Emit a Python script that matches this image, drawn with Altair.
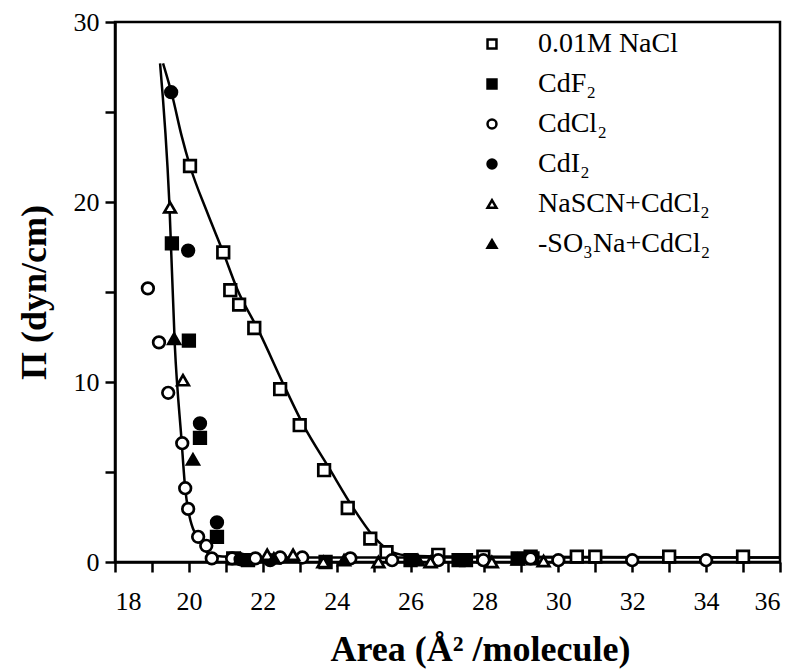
import altair as alt
import pandas as pd

# ---- data ----
series_names = ["0.01M NaCl", "CdF₂", "CdCl₂", "CdI₂", "NaSCN+CdCl₂", "-SO₃Na+CdCl₂"]
series_shapes = ["square", "square", "circle", "circle", "triangle-up", "triangle-up"]
series_fills = ["white", "black", "white", "black", "white", "black"]
series_strokes = ["black", "black", "black", "black", "black", "black"]

nacl_x = [20.03, 20.93, 21.12, 21.36, 21.77, 22.47, 23.0, 23.66, 24.3, 24.91, 25.35, 26.75, 27.97, 29.25, 30.5, 31.0, 33.0, 35.0]
nacl_y = [22.0, 17.2, 15.1, 14.3, 13.0, 9.6, 7.6, 5.1, 3.0, 1.3, 0.55, 0.4, 0.3, 0.3, 0.3, 0.3, 0.3, 0.3]

cdf2_x = [19.54, 20.0, 20.3, 20.76, 21.2, 21.6, 23.7, 26.0, 27.3, 27.5, 28.9, 29.3]
cdf2_y = [17.7, 12.3, 6.9, 1.4, 0.2, 0.1, 0.0, 0.1, 0.1, 0.1, 0.2, 0.2]

cdcl2_x = [18.89, 19.19, 19.44, 19.82, 19.9, 19.98, 20.25, 20.47, 20.62, 21.17, 21.8, 22.47, 23.07, 24.37, 25.5, 26.75, 27.97, 29.25, 30.0, 32.0, 34.0]
cdcl2_y = [15.2, 12.2, 9.4, 6.6, 4.1, 2.95, 1.4, 0.9, 0.2, 0.2, 0.2, 0.25, 0.25, 0.2, 0.1, 0.1, 0.1, 0.2, 0.1, 0.1, 0.1]

cdi2_x = [19.52, 19.98, 20.3, 20.76, 21.4, 22.2]
cdi2_y = [26.1, 17.3, 7.7, 2.2, 0.15, 0.1]

nascn_x = [19.49, 19.84, 22.12, 22.82, 23.64, 25.13, 26.54, 28.2, 29.6]
nascn_y = [19.7, 10.1, 0.4, 0.4, 0.0, 0.0, 0.0, 0.0, 0.05]

so3na_x = [19.6, 20.11, 21.4, 22.3, 24.2, 26.2, 28.9]
so3na_y = [12.4, 5.7, 0.2, 0.2, 0.1, 0.1, 0.15]

# fitted curves
fit_steep_x = [19.22, 19.47, 19.62, 19.8, 19.9, 19.98, 20.3, 20.55, 20.9, 22.0, 36.0]
fit_steep_y = [27.7, 20.0, 12.0, 6.8, 4.1, 2.9, 1.1, 0.45, 0.3, 0.25, 0.25]
fit_nacl_x = [19.3, 19.55, 19.8, 20.03, 20.5, 20.93, 21.3, 21.9, 22.6, 23.1, 23.8, 24.45, 25.05, 25.5, 26.0, 27.0, 36.0]
fit_nacl_y = [27.7, 25.9, 23.7, 22.0, 19.4, 17.2, 15.2, 12.8, 9.7, 7.6, 5.2, 3.0, 1.3, 0.55, 0.35, 0.3, 0.25]

# ---- tables ----
all_x = [nacl_x, cdf2_x, cdcl2_x, cdi2_x, nascn_x, so3na_x]
all_y = [nacl_y, cdf2_y, cdcl2_y, cdi2_y, nascn_y, so3na_y]
rows = []
for name, xs, ys in zip(series_names, all_x, all_y):
    for xv, yv in zip(xs, ys):
        rows.append({"series": name, "area": xv, "pi": yv})
points_df = pd.DataFrame(rows)

fit_rows = []
for i, (xv, yv) in enumerate(zip(fit_steep_x, fit_steep_y)):
    fit_rows.append({"curve": "steep", "order": i, "area": xv, "pi": yv})
for i, (xv, yv) in enumerate(zip(fit_nacl_x, fit_nacl_y)):
    fit_rows.append({"curve": "nacl", "order": i, "area": xv, "pi": yv})
fit_df = pd.DataFrame(fit_rows)

SERIF = "Liberation Serif"

x_enc = alt.X(
    "area:Q",
    scale=alt.Scale(domain=[18, 36], nice=False, zero=False),
    axis=alt.Axis(
        values=list(range(18, 37)),
        labelExpr="datum.value % 2 == 0 ? datum.label : ''",
        title="Area (Å² /molecule)",
        labelPadding=16,
        titlePadding=18,
        titleX=365,
    ),
)
y_enc = alt.Y(
    "pi:Q",
    scale=alt.Scale(domain=[0, 30], nice=False),
    axis=alt.Axis(
        values=[0, 5, 10, 15, 20, 25, 30],
        labelExpr="datum.value % 10 == 0 ? datum.label : ''",
        title="Π (dyn/cm)",
        labelPadding=6,
        titlePadding=20,
    ),
)

lines = alt.Chart(fit_df).mark_line(
    color="black", strokeWidth=2.5, interpolate="monotone", clip=True
).encode(
    x=x_enc, y=y_enc, detail="curve:N", order="order:Q"
)

leg = alt.Legend(title=None)
pts = alt.Chart(points_df).mark_point(
    size=135, strokeWidth=2.7, filled=False, opacity=1
).encode(
    x=x_enc,
    y=y_enc,
    shape=alt.Shape("series:N", sort=series_names,
                    scale=alt.Scale(domain=series_names, range=series_shapes),
                    legend=leg),
    fill=alt.Fill("series:N", sort=series_names,
                  scale=alt.Scale(domain=series_names, range=series_fills),
                  legend=leg),
    stroke=alt.Stroke("series:N", sort=series_names,
                      scale=alt.Scale(domain=series_names, range=series_strokes),
                      legend=leg),
)

chart = alt.layer(lines, pts).properties(
    width=665,
    height=540,
    autosize=alt.AutoSizeParams(type="none"),
    padding={"left": 115, "top": 22, "right": 17, "bottom": 109},
).configure_view(
    stroke="black", strokeWidth=2.5
).configure_axis(
    grid=False,
    domainColor="black",
    domainWidth=2.5,
    tickColor="black",
    tickWidth=2.5,
    tickSize=10,
    labelColor="black",
    labelFont=SERIF,
    labelFontSize=26,
    titleColor="black",
    titleFont=SERIF,
    titleFontSize=36,
    titleFontWeight="bold",
).configure_legend(
    orient="none",
    legendX=363,
    legendY=8,
    labelFont=SERIF,
    labelFontSize=28,
    labelColor="black",
    labelOffset=32,
    rowPadding=12,
    symbolSize=80,
    symbolStrokeWidth=2.5,
    padding=0,
    labelLimit=400,
)

chart.save("out.html", embed_options={"renderer": "svg", "actions": False})
